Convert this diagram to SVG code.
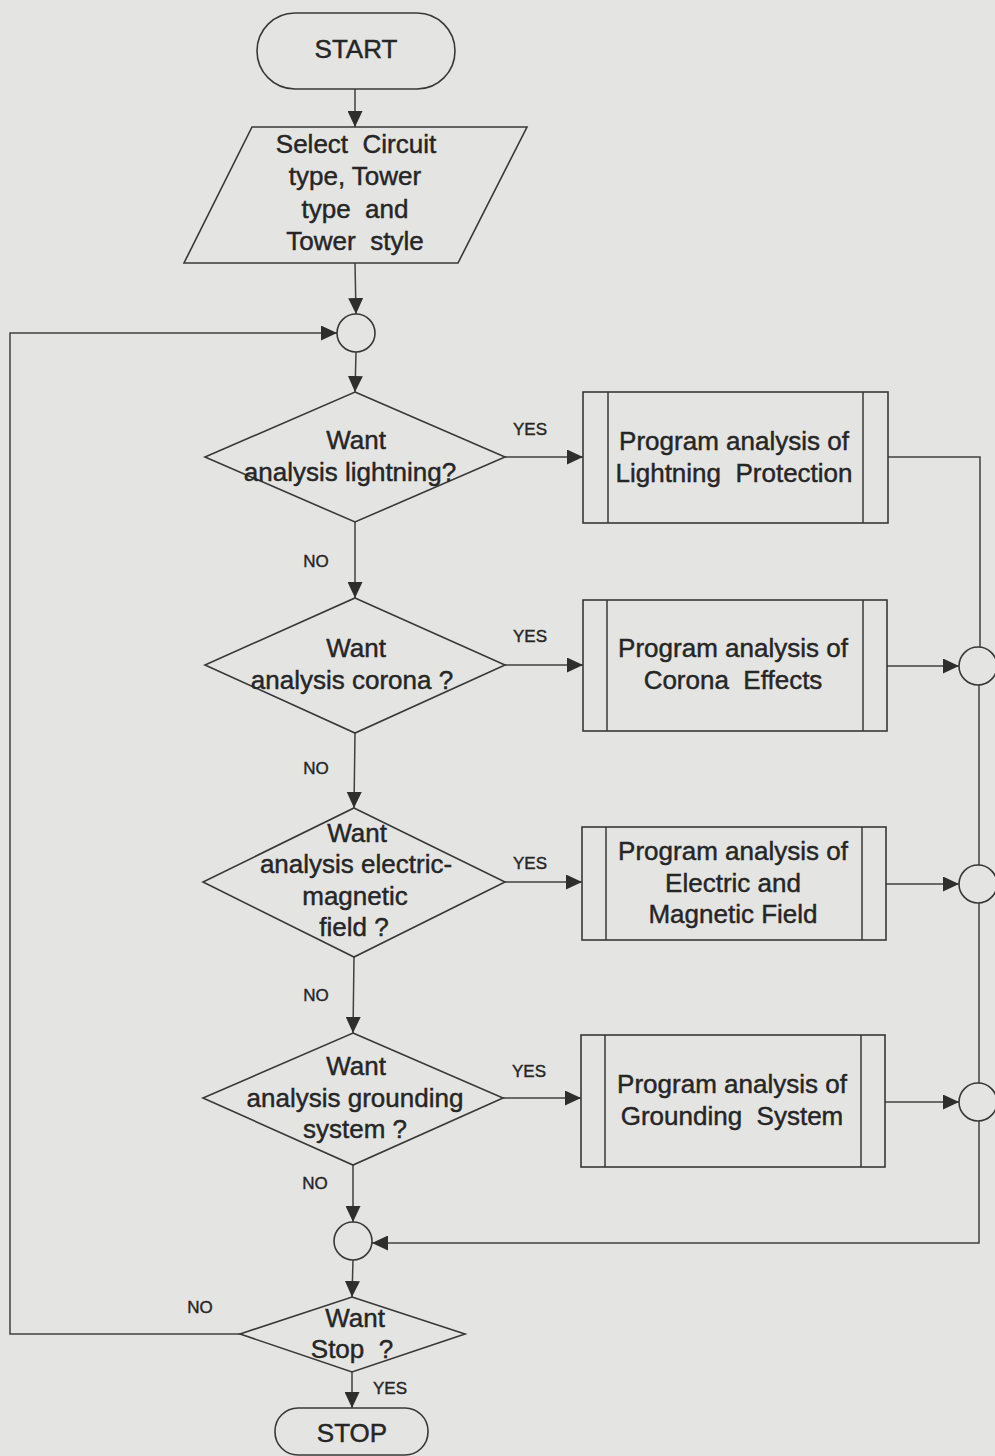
<svg xmlns="http://www.w3.org/2000/svg" width="995" height="1456" viewBox="0 0 995 1456">
<defs>
<marker id="ah" markerUnits="userSpaceOnUse" markerWidth="17" markerHeight="15" refX="16" refY="7.5" orient="auto">
<path d="M0,0 L16,7.5 L0,15 Z" fill="#2e2e2e"/>
</marker>
<style>
.s{fill:none;stroke:#383838;stroke-width:1.5}
.n{fill:#e4e4e2;stroke:#383838;stroke-width:1.6}
.c{fill:none;stroke:#404040;stroke-width:1.5}
.t{font-family:"Liberation Sans",Arial,sans-serif;font-size:26px;fill:#262626;stroke:#262626;stroke-width:0.45;text-anchor:middle;white-space:pre}
.l{font-family:"Liberation Sans",Arial,sans-serif;font-size:17px;fill:#262626;stroke:#262626;stroke-width:0.4;text-anchor:middle}
</style>
</defs>
<rect x="0" y="0" width="995" height="1456" fill="#e4e4e2"/>

<g id="connectors">
<line class="c" x1="355" y1="89" x2="355" y2="127" marker-end="url(#ah)"/>
<line class="c" x1="355" y1="263" x2="356" y2="314" marker-end="url(#ah)"/>
<polyline class="c" points="240,1334 10,1334 10,333 337,333" marker-end="url(#ah)"/>
<line class="c" x1="356" y1="352" x2="355" y2="392" marker-end="url(#ah)"/>
<line class="c" x1="355" y1="522" x2="355" y2="598" marker-end="url(#ah)"/>
<line class="c" x1="355" y1="733" x2="354" y2="808" marker-end="url(#ah)"/>
<line class="c" x1="354" y1="957" x2="353" y2="1033" marker-end="url(#ah)"/>
<line class="c" x1="353" y1="1165" x2="353" y2="1222" marker-end="url(#ah)"/>
<line class="c" x1="353" y1="1260" x2="352" y2="1297" marker-end="url(#ah)"/>
<line class="c" x1="352" y1="1372" x2="352" y2="1408" marker-end="url(#ah)"/>
<line class="c" x1="505" y1="457" x2="583" y2="457" marker-end="url(#ah)"/>
<line class="c" x1="505" y1="665" x2="583" y2="665" marker-end="url(#ah)"/>
<line class="c" x1="505" y1="882" x2="582" y2="882" marker-end="url(#ah)"/>
<line class="c" x1="503" y1="1098" x2="581" y2="1098" marker-end="url(#ah)"/>
<polyline class="c" points="888,457 980,457 980,647"/>
<line class="c" x1="979" y1="685" x2="979" y2="865"/>
<line class="c" x1="979" y1="903" x2="979" y2="1083"/>
<polyline class="c" points="979,1121 979,1243 372,1243" marker-end="url(#ah)"/>
<line class="c" x1="887" y1="666" x2="959" y2="666" marker-end="url(#ah)"/>
<line class="c" x1="886" y1="884" x2="959" y2="884" marker-end="url(#ah)"/>
<line class="c" x1="885" y1="1102" x2="959" y2="1102" marker-end="url(#ah)"/>
<text class="l" x="530" y="435">YES</text>
<text class="l" x="530" y="642">YES</text>
<text class="l" x="530" y="869">YES</text>
<text class="l" x="529" y="1077">YES</text>
<text class="l" x="390" y="1394">YES</text>
<text class="l" x="316" y="567">NO</text>
<text class="l" x="316" y="774">NO</text>
<text class="l" x="316" y="1001">NO</text>
<text class="l" x="315" y="1189">NO</text>
<text class="l" x="200" y="1313">NO</text>
</g>

<g id="start">
<rect class="n" x="257" y="13" width="198" height="76" rx="38" ry="38"/>
<text class="t" x="356" y="58">START</text>
</g>

<g id="select">
<polygon class="n" points="252,127 527,127 458,263 184,263"/>
<text class="t" x="356" y="153">Select  Circuit</text>
<text class="t" x="355" y="185">type, Tower</text>
<text class="t" x="355" y="218">type  and</text>
<text class="t" x="355" y="250">Tower  style</text>
</g>

<g id="join-top">
<circle class="n" cx="356" cy="333" r="19"/>
</g>

<g id="q-lightning">
<polygon class="n" points="355,392 505,457 355,522 205,457"/>
<text class="t" x="356" y="449">Want</text>
<text class="t" x="350" y="481">analysis lightning?</text>
</g>

<g id="p-lightning">
<rect class="n" x="583" y="392" width="305" height="131"/>
<line class="s" x1="608" y1="392" x2="608" y2="523"/>
<line class="s" x1="863" y1="392" x2="863" y2="523"/>
<text class="t" x="734" y="450">Program analysis of</text>
<text class="t" x="734" y="482">Lightning  Protection</text>
</g>

<g id="q-corona">
<polygon class="n" points="355,598 505,665 355,733 205,665"/>
<text class="t" x="356" y="657">Want</text>
<text class="t" x="352" y="689">analysis corona ?</text>
</g>

<g id="p-corona">
<rect class="n" x="583" y="600" width="304" height="131"/>
<line class="s" x1="607" y1="600" x2="607" y2="731"/>
<line class="s" x1="863" y1="600" x2="863" y2="731"/>
<text class="t" x="733" y="657">Program analysis of</text>
<text class="t" x="733" y="689">Corona  Effects</text>
</g>

<g id="q-emf">
<polygon class="n" points="354,808 505,882 354,957 203,882"/>
<text class="t" x="357" y="842">Want</text>
<text class="t" x="356" y="873">analysis electric-</text>
<text class="t" x="355" y="905">magnetic</text>
<text class="t" x="354" y="936">field ?</text>
</g>

<g id="p-emf">
<rect class="n" x="582" y="827" width="304" height="113"/>
<line class="s" x1="606" y1="827" x2="606" y2="940"/>
<line class="s" x1="862" y1="827" x2="862" y2="940"/>
<text class="t" x="733" y="860">Program analysis of</text>
<text class="t" x="733" y="892">Electric and</text>
<text class="t" x="733" y="923">Magnetic Field</text>
</g>

<g id="q-grounding">
<polygon class="n" points="353,1033 503,1098 353,1165 203,1098"/>
<text class="t" x="356" y="1075">Want</text>
<text class="t" x="355" y="1107">analysis grounding</text>
<text class="t" x="355" y="1138">system ?</text>
</g>

<g id="p-grounding">
<rect class="n" x="581" y="1035" width="304" height="132"/>
<line class="s" x1="605" y1="1035" x2="605" y2="1167"/>
<line class="s" x1="861" y1="1035" x2="861" y2="1167"/>
<text class="t" x="732" y="1093">Program analysis of</text>
<text class="t" x="732" y="1125">Grounding  System</text>
</g>

<g id="join-r1"><circle class="n" cx="978" cy="666" r="19"/></g>
<g id="join-r2"><circle class="n" cx="978" cy="884" r="19"/></g>
<g id="join-r3"><circle class="n" cx="978" cy="1102" r="19"/></g>
<g id="join-bottom"><circle class="n" cx="353" cy="1241" r="19"/></g>

<g id="q-stop">
<polygon class="n" points="352,1297 465,1334 352,1372 240,1334"/>
<text class="t" x="355" y="1327">Want</text>
<text class="t" x="352" y="1358">Stop  ?</text>
</g>

<g id="stop">
<rect class="n" x="275" y="1408" width="153" height="47" rx="23" ry="23"/>
<text class="t" x="352" y="1442">STOP</text>
</g>
</svg>
